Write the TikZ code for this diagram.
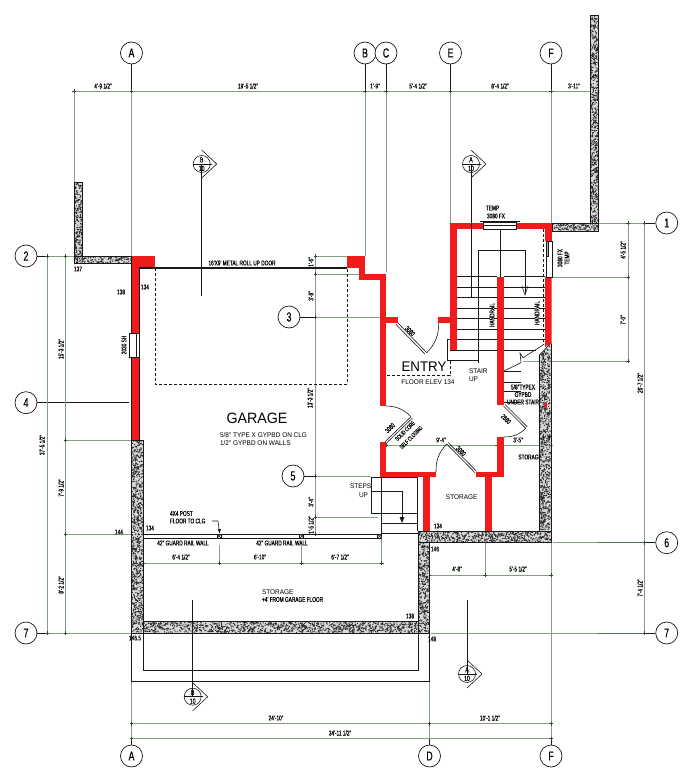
\documentclass[tikz,border=0pt]{standalone}
\usepackage{fontspec}
\setmainfont{Liberation Sans}
\newfontfamily\nar[FakeStretch=.68,FakeBold=.25]{Liberation Sans}
\newfontfamily\wid[FakeStretch=.95]{Liberation Sans}
\definecolor{dimg}{RGB}{125,162,125}
\definecolor{wallred}{RGB}{240,28,28}
\definecolor{ink}{RGB}{25,25,25}
\newcounter{lb}
\newcommand\lab[4][]{\stepcounter{lb}\node[txt,#1] (lb\arabic{lb}) at (#2,#3) {#4};}
\newcommand\wlab[4][]{\stepcounter{lb}\node[txt,font=\wid\fontsize{6.8}{7}\selectfont,#1] (lb\arabic{lb}) at (#2,#3) {#4};}
\newcommand\conc[4]{%
  \fill[gray!30] (#1,#2) rectangle (#3,#4);
  \pgfmathtruncatemacro\nn{(#3-#1)*(#4-#2)/2.6}
  \fill[ink!90] \foreach \i in {1,...,\nn}{ ({#1+rnd*(#3-#1-1)},{#2+rnd*(#4-#2-1)}) rectangle ++(1,1) };
  \draw[ink,line width=.7pt] (#1,#2) rectangle (#3,#4);}
\newcommand\tk[2]{\draw[ink!70!dimg,line width=.6pt] (#1-1.8,#2) -- (#1+1.8,#2) (#1,#2-1.8) -- (#1,#2+1.8);}
\newcommand\sect[3]{%
  \stepcounter{lb}
  \draw[ink,line width=.6pt] (#1,#2-14) -- (#1+15,#2) -- (#1,#2+14);
  \node[circle,draw=ink,line width=.6pt,minimum size=17pt,inner sep=0pt] (lb\arabic{lb}) at (#1,#2) {};
  \draw[ink,line width=.5pt] (#1-8.5,#2) -- (#1+10,#2);
  \lab[font=\nar\fontsize{7.5}{8}\selectfont]{#1}{#2-4.2}{#3}
  \lab[font=\nar\fontsize{7.5}{8}\selectfont]{#1}{#2+4.4}{10}}
\tikzset{
  txt/.style={inner sep=0pt,outer sep=0pt,text=black,font=\nar\fontsize{7}{7.5}\selectfont},
  bub/.style={circle,draw=ink,line width=.7pt,fill=white,minimum size=22pt,inner sep=0pt,font=\nar\fontsize{13}{14}\selectfont},
  dm/.style={draw=dimg,line width=.75pt},
  blk/.style={draw=ink,line width=.8pt},
  thin blk/.style={draw=ink,line width=.6pt},
  red wall/.style={fill=wallred,draw=none},
  dash line/.style={draw=ink,line width=.7pt,dash pattern=on 3pt off 2pt},
}
\begin{document}
\begin{tikzpicture}[x=1pt,y=-1pt]
\useasboundingbox (0,0) rectangle (693,771);
\fill[white] (0,0) rectangle (693,771);
\pgfmathsetseed{4711}
% bubbles
\node[bub] (gA) at (131.5,53) {A};
\node[bub] (gB) at (365,53) {B};
\node[bub] (gC) at (386,53) {C};
\node[bub] (gE) at (450.5,53) {E};
\node[bub] (gF) at (551,53) {F};
\node[bub] (gA2) at (131.5,756) {A};
\node[bub] (gD) at (429.5,756) {D};
\node[bub] (gF2) at (551,756) {F};
\node[bub] (r1) at (666.7,223) {1};
\node[bub] (r2) at (26,256) {2};
\node[bub] (r3) at (289,317) {3};
\node[bub] (r4) at (26,402.7) {4};
\node[bub] (r5) at (293,476) {5};
\node[bub] (r6) at (666.7,542.7) {6};
\node[bub] (r7) at (26,633) {7};
\node[bub] (r7b) at (666.7,633) {7};
% black stubs of grids
\coordinate (tA) at (131.5,91); \coordinate (tB) at (365,91); \coordinate (tC) at (386,91);
\coordinate (tE) at (450.5,91); \coordinate (tF) at (551,91);
\coordinate (bA) at (131.5,724); \coordinate (bD) at (429.5,724); \coordinate (bF) at (551,724);
\draw[blk] (gA) -- (tA); \draw[blk] (gB) -- (tB); \draw[blk] (gC) -- (tC);
\draw[blk] (gE) -- (tE); \draw[blk] (gF) -- (tF);
\draw[blk] (gA2) -- (bA); \draw[blk] (gD) -- (bD); \draw[blk] (gF2) -- (bF);
\coordinate (l2) at (47,256); \coordinate (l3) at (315.5,317); \coordinate (l4) at (129,402.7);
\coordinate (l5) at (315.5,476); \coordinate (l7) at (47,633); \coordinate (l1) at (644.5,223);
\coordinate (l6) at (644.5,542.7); \coordinate (l7b) at (644.5,633);
\draw[blk] (r2) -- (l2); \draw[blk] (r3) -- (l3); \draw[blk] (r4) -- (l4); \draw[blk] (r5) -- (l5);
\draw[blk] (r7) -- (l7); \draw[blk] (r1) -- (l1); \draw[blk] (r6) -- (l6); \draw[blk] (r7b) -- (l7b);
% green grid and dimension lines
\draw[dm] (74,91) -- (598,91);
\draw[dm] (74,91) -- (74,182);
\draw[dm] (131.5,91) -- (131.5,256);
\draw[dm] (365,91) -- (365,256);
\draw[dm] (386,91) -- (386,272);
\draw[dm] (450.5,91) -- (450.5,223);
\draw[dm] (551,91) -- (551,223);
\draw[dm,line width=1pt] (551,542) -- (551,738);
\draw[dm] (131.5,633) -- (131.5,738);
\draw[dm] (429.5,633) -- (429.5,738);
\draw[dm] (47,256) -- (131,256);
\draw[dm] (47,256) -- (47,633);
\draw[dm] (65.5,256) -- (65.5,633);
\draw[dm] (65.5,440) -- (131,440);
\draw[dm] (65.5,534) -- (131,534);
\draw[dm] (47,633) -- (131,633);
\draw[dm] (315.5,256) -- (315.5,534);
\draw[dm] (315.5,256) -- (347,256);
\draw[dm] (315.5,274) -- (359,274);
\draw[dm] (315.5,317) -- (380,317);
\draw[dm] (315.5,476) -- (371,476);
\draw[dm] (315.5,517) -- (378,517);
\draw[dm] (315.5,534) -- (382,534);
\draw[dm] (552,223) -- (644.5,223);
\draw[dm] (628,223) -- (628,361);
\draw[dm] (552,277) -- (628,277);
\draw[dm] (523,361) -- (628,361);
\draw[dm] (644.5,223) -- (644.5,633);
\draw[dm] (553,542.7) -- (598,542.7);
\draw[dm,draw=dimg!70!black] (598,542.7) -- (644.5,542.7);
\draw[dm] (431,633) -- (598,633);
\draw[dm,draw=dimg!70!black] (598,633) -- (644.5,633);
\draw[dm] (131.5,723.7) -- (551,723.7);
\draw[dm] (131.5,738.5) -- (551,738.5);
\draw[dm] (143,563) -- (381.7,563);
\draw[dm] (219.3,545) -- (219.3,563);
\draw[dm] (301.7,545) -- (301.7,563);
\draw[dm] (381.7,538) -- (381.7,563);
\draw[dm] (429.5,575) -- (551,575);
\draw[dm] (485,542) -- (485,575);
\draw[dm] (386,445) -- (553,445);
% ticks
\tk{74}{91}\tk{131.5}{91}\tk{365}{91}\tk{386}{91}\tk{450.5}{91}\tk{551}{91}
\tk{47}{256}\tk{65.5}{256}\tk{65.5}{440}\tk{65.5}{534}\tk{47}{633}\tk{65.5}{633}
\tk{315.5}{256}\tk{315.5}{274}\tk{315.5}{317}\tk{315.5}{476}\tk{315.5}{517}\tk{315.5}{534}
\tk{628}{223}\tk{644.5}{223}\tk{628}{277}\tk{628}{361}\tk{644.5}{542.7}\tk{644.5}{633}
\tk{131.5}{723.7}\tk{429.5}{723.7}\tk{551}{723.7}\tk{131.5}{738.5}\tk{551}{738.5}
\tk{143}{563}\tk{219.3}{563}\tk{301.7}{563}\tk{381.7}{563}\tk{429.5}{575}\tk{485}{575}\tk{551}{575}
\tk{386}{445}\tk{497}{445}\tk{544}{445}
% concrete walls
\conc{74}{182}{82.5}{263.5}
\conc{74}{256}{131.5}{263.5}
\conc{590}{15}{598.5}{231}
\conc{552}{223}{598.5}{231}
\conc{131.5}{440}{143.5}{633}
\conc{143.5}{621.7}{418}{633}
\conc{418}{531}{429.5}{633}
\conc{418}{531}{551}{542.7}
\conc{539}{343}{551}{531}
\fill[white] (537,342) -- (552,342) -- (552,343) -- (539,355.5) -- (537,355.5) -- cycle;
\draw[ink,line width=.7pt] (539,355.5) -- (551,343);
% red walls
\fill[red wall] (131.5,256) rectangle (155,267.5);
\fill[red wall] (131.5,256) rectangle (139,440);
\fill[red wall] (347,256) rectangle (365,268);
\fill[red wall] (359,256) rectangle (365,280);
\fill[red wall] (359,274) rectangle (386,280);
\fill[red wall] (380,274) rectangle (386,406);
\fill[red wall] (386,317) rectangle (398,323);
\fill[red wall] (380,441.7) rectangle (386,477);
\fill[red wall] (380,471.7) rectangle (436,477);
\fill[red wall] (423,477) rectangle (430,531);
\fill[red wall] (475.7,471.7) rectangle (503.5,477);
\fill[red wall] (485,477) rectangle (491.7,531);
\fill[red wall] (497,437) rectangle (503.5,477);
\fill[red wall] (497,277) rectangle (503.5,405);
\fill[red wall] (450,223) rectangle (456.7,350);
\fill[red wall] (450,223) rectangle (483,229);
\fill[red wall] (516.7,223) rectangle (551.5,229);
\fill[red wall] (545,223) rectangle (551.5,241);
\fill[red wall] (545,277) -- (551.5,277) -- (551.5,343) -- (545,347) -- cycle;
\fill[red wall] (438,317) rectangle (450,323);
\fill[wallred] (543.5,403) rectangle (547,408);
\draw[blk] (131.5,256) -- (131.5,440);
\draw[thin blk] (139,268) -- (139,440);
% left window
\draw[thin blk,fill=white] (129,333) rectangle (139,357);
\draw[thin blk] (136,333) -- (136,357);
% top window
\draw[thin blk,fill=white] (483,222) rectangle (516.7,229);
\draw[thin blk] (483,225.5) -- (516.7,225.5);
\draw[thin blk] (480,221.5) -- (520,221.5);
% right window
\draw[thin blk,fill=white] (546,241) rectangle (552,277);
\draw[thin blk,fill=gray!60] (546,241) rectangle (548,256);
% roll-up door
\draw[draw=ink,line width=1.2pt] (139,268) -- (347,268);
\draw[dash line] (155,268) -- (155,384) -- (347,384) -- (347,268);
% section markers
\draw[blk] (201.7,164) -- (201.7,296);
\draw[blk] (471,164) -- (471,296.7);
\draw[blk] (192.7,600) -- (192.7,697);
\draw[blk] (467,600) -- (467,674);
\sect{201.7}{164}{B}
\sect{471}{164}{A}
\sect{192.7}{696.7}{B}
\sect{467}{674}{A}
% stair
\foreach \yy in {276.7,287,297.7,308,318,329,339}{
  \draw[thin blk] (456.7,\yy) -- (497,\yy);
  \draw[thin blk] (503.5,\yy) -- (545,\yy);}
\draw[thin blk] (450,350.5) -- (497,350.5) (503.5,350.5) -- (536,350.5);
\draw[thin blk] (500.5,229) -- (500.5,277);
\draw[thin blk] (478,363) -- (478,250.7) -- (525,250.7) -- (525,294);
\draw[thin blk] (522,286) -- (525,295) -- (528,286);
\draw[dash line,line width=.6pt] (543.3,229) -- (543.3,345);
\draw[thin blk] (450,339) -- (447,339) -- (447,360.7) -- (478,360.7);
\draw[dash line] (450,360.7) -- (450,375.7) -- (386,375.7);
% break line and under-stair
\draw[thin blk] (504,371) -- (521,362.7) -- (520,353) -- (523,357.7) -- (543,345);
\foreach \yy in {371,382.7,391.7,402}{\draw[thin blk] (504,\yy) -- (521,\yy);}
% doors
\draw[ink,line width=.6pt] (397.7,322.7) -- (426.7,352.7) (396,324.4) -- (425,354.2);
\draw[thin blk] (426.7,352.7) to[bend right=22] (438.7,323);
\draw[ink,line width=.6pt] (385,441.7) -- (411,416.7) (386.5,443) -- (412.5,418);
\draw[thin blk] (411,416.7) to[bend right=22] (386,406);
\draw[ink,line width=.6pt] (446.7,444) -- (475,472.7) (448.2,442.5) -- (476.5,471.2);
\draw[thin blk] (446.7,444) to[bend right=22] (436,472);
\draw[ink,line width=.6pt] (503.5,406) -- (525.7,428.3) (505,404.5) -- (527.2,426.8);
\draw[thin blk] (525.7,428.3) to[bend left=22] (504,437);
% steps
\draw[thin blk] (371,477) -- (371,513.3) -- (417.7,513.3);
\draw[thin blk] (371,477) -- (417.7,477) -- (417.7,531);
\draw[thin blk] (381.5,477) -- (381.5,538);
\draw[thin blk] (381.5,523.3) -- (417.7,523.3);
\draw[thin blk] (381.5,533) -- (417.7,533);
\draw[thin blk] (371,491) -- (402,491) -- (402,519);
\fill[ink] (399.5,517) -- (404.5,517) -- (402,523) -- cycle;
% guard rail
\draw[draw=ink,line width=.8pt] (143.5,534.3) -- (381.7,534.3);
\draw[draw=ink,line width=.8pt] (143.5,538) -- (381.7,538);
\foreach \xx in {219.3,301.7,379.5}{
  \draw[ink,line width=.6pt] (\xx-2,534.2) rectangle (\xx+2,538.2);
  \draw[ink,line width=.5pt] (\xx-2,534.2) -- (\xx+2,538.2) (\xx-2,538.2) -- (\xx+2,534.2);}
\draw[thin blk] (212,521) -- (218,521) -- (219.3,531);
\fill[ink] (217.7,529) -- (221,529) -- (219.5,533.5) -- cycle;
% lower outlines
\draw[blk] (131.5,633) -- (131.5,681.5) -- (429.5,681.5);
\draw[blk] (143.5,633) -- (143.5,670) -- (418,670) -- (418,633);
\draw[thin blk] (429.5,633) -- (429.5,681.5);
% labels: dimensions
\lab{103}{86}{4'-9 1/2"}
\lab{248}{86}{19'-5 1/2"}
\lab{375}{86}{1'-9"}
\lab{418}{86}{5'-4 1/2"}
\lab{500}{86}{8'-4 1/2"}
\lab{574}{86}{3'-11"}
\lab[rotate=90]{61}{349}{15'-3 1/2"}
\lab[rotate=90]{61}{488}{7'-9 1/2"}
\lab[rotate=90]{61}{585}{8'-2 1/2"}
\lab[rotate=90]{42}{445}{37'-5 1/2"}
\lab[rotate=90]{311}{262}{1'-6"}
\lab[rotate=90]{311}{296}{3'-8"}
\lab[rotate=90]{310}{398}{13'-3 1/2"}
\lab[rotate=90]{311}{502}{3'-4"}
\lab[rotate=90]{311}{525}{1'-5 1/2"}
\lab[rotate=90]{623}{250}{4'-5 1/2"}
\lab[rotate=90]{623}{320}{7'-0"}
\lab[rotate=90]{640}{383}{26'-7 1/2"}
\lab[rotate=90]{640}{588}{7'-4 1/2"}
\lab{276}{718}{24'-10"}
\lab{490}{718}{10'-1 1/2"}
\lab{340}{733}{34'-11 1/2"}
\lab{181}{557}{6'-4 1/2"}
\lab{260}{557}{6'-10"}
\lab{340}{557}{6'-7 1/2"}
\lab{457}{569}{4'-8"}
\lab{518}{569}{5'-5 1/2"}
\lab{441}{440}{9'-4"}
\lab{518}{440}{3'-5"}
\lab{547}{438}{1'-8"}
% labels: levels
\lab{78}{269}{137}
\lab{121}{292}{138}
\lab{145}{287}{134}
\lab{119}{532}{144}
\lab{150}{528}{134}
\lab{135}{638}{146.5}
\lab{410}{616}{138}
\lab{435}{549}{146}
\lab{432}{639}{148}
\lab{438}{526}{134}
% labels: notes
\lab{242}{263}{16'X9' METAL ROLL UP DOOR}
\lab[rotate=90]{124}{345}{2030 SH}
\stepcounter{lb}\node[txt,font=\wid\fontsize{15}{16}\selectfont] (lb\arabic{lb}) at (257,418) {GARAGE};
\wlab[anchor=west]{220}{435}{5/8" TYPE X GYPBD ON CLG}
\wlab[anchor=west]{220}{443}{1/2" GYPBD ON WALLS}
\lab[anchor=west]{170}{513.5}{4X4 POST}
\lab[anchor=west]{170}{521}{FLOOR TO CLG}
\lab{183}{543}{42" GUARD RAIL WALL}
\lab{282}{543}{42" GUARD RAIL WALL}
\wlab[anchor=west]{262}{592}{STORAGE}
\lab[anchor=west]{262}{599.5}{+4' FROM GARAGE FLOOR}
\stepcounter{lb}\node[txt,font=\wid\fontsize{14}{15}\selectfont] (lb\arabic{lb}) at (424,367) {ENTRY};
\wlab{428}{382}{FLOOR ELEV 134}
\wlab[anchor=west]{469}{371.5}{STAIR}
\wlab[anchor=west]{469}{379}{UP}
\lab[rotate=90,fill=white]{492}{315}{HANDRAIL}
\lab[rotate=90,fill=white]{537}{313}{HANDRAIL}
\lab{492.5}{208}{TEMP}
\lab{496}{216}{3080 FX}
\lab[rotate=90]{560}{258}{3080 FX}
\lab[rotate=90]{567}{258}{TEMP}
\lab[rotate=-45]{410}{331}{3080}
\lab[rotate=45]{390}{428}{3080}
\lab[rotate=45,font=\nar\fontsize{6}{6.5}\selectfont]{405}{431}{SOLID CORE}
\lab[rotate=45,font=\nar\fontsize{6}{6.5}\selectfont]{411}{437.5}{SELF CLOSING}
\lab[rotate=-45]{461}{451}{3080}
\lab[rotate=-45]{506}{419}{2680}
\lab{523}{387}{5/8"TYPEX}
\lab{523}{394.5}{GYPBD}
\lab{523}{402}{UNDER STAIR}
\wlab{461.7}{496.7}{STORAGE}
\lab{530}{457}{STORAGE}
\wlab[anchor=west]{350}{486}{STEPS}
\wlab[anchor=west]{359}{495.5}{UP}
\end{tikzpicture}
\end{document}
